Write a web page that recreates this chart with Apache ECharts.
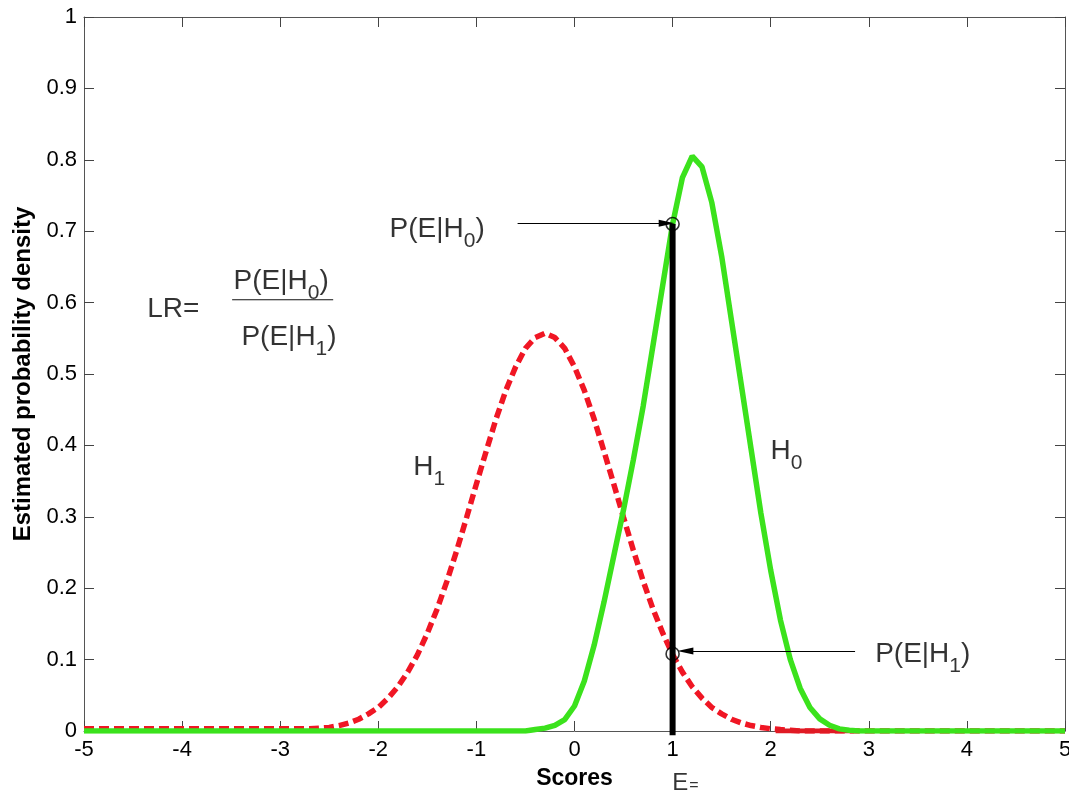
<!DOCTYPE html>
<html>
<head>
<meta charset="utf-8">
<script src="https://cdn.jsdelivr.net/npm/echarts@6/dist/echarts.min.js"></script>
<style>
  html, body { margin: 0; padding: 0; background: #fff; }
  #chart { width: 1069px; height: 792px; }
</style>
</head>
<body>
<div id="chart"></div>
<script>
// score grid (x), finer in the middle where the curves move
const scores = [
  -5, -4, -3,
  -2.9, -2.8, -2.7, -2.6, -2.5, -2.4, -2.3, -2.2, -2.1, -2.0,
  -1.9, -1.8, -1.7, -1.6, -1.5, -1.4, -1.3, -1.2, -1.1, -1.0,
  -0.9, -0.8, -0.7, -0.6, -0.5, -0.4, -0.3, -0.2, -0.1, 0.0,
  0.1, 0.2, 0.3, 0.4, 0.5, 0.6, 0.7, 0.8, 0.9, 1.0,
  1.1, 1.2, 1.3, 1.4, 1.5, 1.6, 1.7, 1.8, 1.9, 2.0,
  2.1, 2.2, 2.3, 2.4, 2.5, 2.6, 2.7, 2.8, 2.9,
  3, 4, 5
];

// H1 density (red dashed)
const densityH1 = [
  0.003, 0.003, 0.003,
  0.003, 0.003, 0.003, 0.004, 0.005, 0.0076, 0.0113, 0.0165, 0.024, 0.033,
  0.046, 0.062, 0.0825, 0.107, 0.137, 0.171, 0.210, 0.253, 0.299, 0.346,
  0.392, 0.437, 0.477, 0.510, 0.536, 0.551, 0.557, 0.551, 0.536, 0.510,
  0.477, 0.437, 0.392, 0.346, 0.299, 0.253, 0.210, 0.171, 0.137, 0.107,
  0.0825, 0.062, 0.046, 0.033, 0.024, 0.0165, 0.0113, 0.0076, 0.005, 0.0032,
  0.002, 0.001, 0, 0, 0, 0, 0, 0, 0,
  0, 0, 0
];

// H0 density (green solid)
const densityH0 = [
  0, 0, 0,
  0, 0, 0, 0, 0, 0, 0, 0, 0, 0,
  0, 0, 0, 0, 0, 0, 0, 0, 0, 0,
  0, 0, 0, 0, 0, 0.002, 0.004, 0.008, 0.016, 0.035,
  0.07, 0.12, 0.18, 0.245, 0.31, 0.38, 0.455, 0.54, 0.625, 0.71,
  0.775, 0.805, 0.79, 0.74, 0.665, 0.575, 0.485, 0.395, 0.305, 0.225,
  0.155, 0.10, 0.06, 0.033, 0.017, 0.008, 0.003, 0.001, 0,
  0, 0, 0
];

// where the red line shows solid along the floor
const h1TailX = [2.05, 2.85];

// the evidence E and the two densities read at it
const evidenceX = 1;
const pAtH0 = 0.71;
const pAtH1 = 0.108;

// arrows: [fromX, toX, y]
const arrowH0 = [-0.58, 0.94, 0.711];
const arrowH1 = [2.86, 1.13, 0.112];

// fraction bar of LR: [fromX, toX, y]
const fractionBar = [-3.49, -2.46, 0.604];

// text notes, anchored in data units
const noteTexts = [
  '{t|LR=}',
  '{t|P(E|H}{s|0}{t|)}',
  '{t|P(E|H}{s|1}{t|)}',
  '{t|P(E|H}{s|0}{t|)}',
  '{t|P(E|H}{s|1}{t|)}',
  '{t|H}{s|1}',
  '{t|H}{s|0}',
  '{e|E}{q|=}'
];
const noteX = [-4.09, -2.99, -2.91, -1.40, 3.55, -1.48, 2.16, 1.13];
const noteY = [0.590, 0.630, 0.552, 0.703, 0.107, 0.370, 0.392, -0.073];

const FONT = 'Liberation Sans';
const chart = echarts.init(document.getElementById('chart'), null, { renderer: 'canvas' });

const pairs = (ys) => scores.map((x, i) => [x, ys[i]]);

const axisCommon = {
  type: 'value',
  axisLine: { show: true, onZero: false, lineStyle: { color: '#555', width: 1 } },
  axisTick: { show: true, inside: true, length: 10, lineStyle: { color: '#444', width: 1 } },
  splitLine: { show: false }
};

const option = {
  animation: false,
  backgroundColor: '#fff',
  grid: { left: 84, right: 4, top: 17, bottom: 61, outerBoundsMode: 'none', containLabel: false },
  xAxis: [
    {
      ...axisCommon,
      min: -5, max: 5, interval: 1,
      name: 'Scores',
      nameLocation: 'middle',
      nameGap: 36,
      nameTextStyle: { fontFamily: FONT, fontSize: 23, fontWeight: 'bold', color: '#000' },
      axisLabel: { fontFamily: FONT, fontSize: 22, color: '#000', margin: 8 }
    },
    {
      ...axisCommon,
      position: 'top',
      min: -5, max: 5, interval: 1,
      axisLabel: { show: false }
    }
  ],
  yAxis: [
    {
      ...axisCommon,
      min: 0, max: 1, interval: 0.1,
      name: 'Estimated probability density',
      nameLocation: 'middle',
      nameGap: 47,
      nameTextStyle: { fontFamily: FONT, fontSize: 24, fontWeight: 'bold', color: '#000' },
      axisLabel: { fontFamily: FONT, fontSize: 22, color: '#000', margin: 7 }
    },
    {
      ...axisCommon,
      position: 'right',
      min: 0, max: 1, interval: 0.1,
      axisLabel: { show: false }
    }
  ],
  series: [
    {
      name: 'H1',
      type: 'line',
      data: pairs(densityH1),
      showSymbol: false,
      lineStyle: { color: '#f01624', width: 5.5, type: [10, 5] },
      z: 2
    },
    {
      name: 'H1 tail',
      type: 'line',
      data: h1TailX.map((x) => [x, 0]),
      showSymbol: false,
      lineStyle: { color: '#e01a24', width: 5 },
      z: 2
    },
    {
      name: 'H0',
      type: 'line',
      data: pairs(densityH0),
      showSymbol: false,
      lineStyle: { color: '#3be21c', width: 5.5 },
      z: 3,
      markLine: {
        silent: true,
        symbol: ['none', 'triangle'],
        symbolSize: [7, 16],
        label: { show: false },
        lineStyle: { color: '#000', width: 1, type: 'solid' },
        data: [
          [{ coord: [arrowH0[0], arrowH0[2]] }, { coord: [arrowH0[1], arrowH0[2]] }],
          [{ coord: [arrowH1[0], arrowH1[2]] }, { coord: [arrowH1[1], arrowH1[2]] }]
        ]
      }
    },
    {
      name: 'E',
      type: 'line',
      clip: false,
      data: [[evidenceX, -0.006], [evidenceX, pAtH0]],
      showSymbol: false,
      lineStyle: { color: '#000', width: 6 },
      z: 4
    },
    {
      name: 'P at E',
      type: 'scatter',
      data: [[evidenceX, pAtH0], [evidenceX, pAtH1]],
      symbol: 'circle',
      symbolSize: 13,
      itemStyle: { color: 'rgba(0,0,0,0)', borderColor: '#000', borderWidth: 1.6 },
      z: 5
    },
    {
      name: 'LR bar',
      type: 'line',
      data: [[fractionBar[0], fractionBar[2]], [fractionBar[1], fractionBar[2]]],
      showSymbol: false,
      lineStyle: { color: '#111', width: 1.2 },
      z: 5
    },
    {
      name: 'notes',
      type: 'scatter',
      clip: false,
      silent: true,
      symbolSize: 1,
      itemStyle: { color: 'rgba(0,0,0,0)' },
      data: noteTexts.map((t, i) => ({
        value: [noteX[i], noteY[i]],
        label: { formatter: t }
      })),
      label: {
        show: true,
        position: 'inside',
        color: '#000',
        fontFamily: FONT,
        rich: {
          t: { fontFamily: FONT, fontSize: 28, color: '#000' },
          s: { fontFamily: FONT, fontSize: 21, color: '#000', padding: [24, 0, 0, 0] },
          e: { fontFamily: FONT, fontSize: 24, color: '#000' },
          q: { fontFamily: FONT, fontSize: 16, color: '#000', padding: [4, 0, 0, 1] }
        }
      },
      z: 6
    }
  ]
};

chart.setOption(option);
</script>
</body>
</html>
